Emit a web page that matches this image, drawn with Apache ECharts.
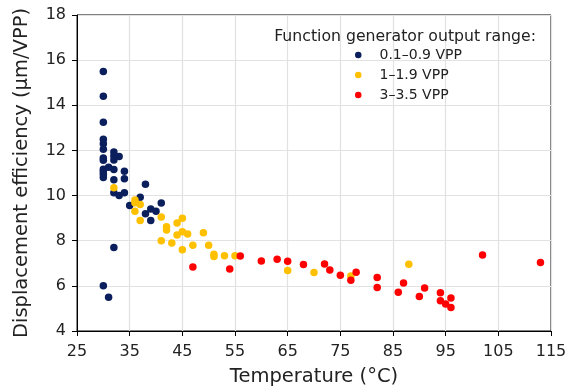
<!DOCTYPE html>
<html>
<head>
<meta charset="utf-8">
<script src="https://cdn.jsdelivr.net/npm/echarts@6/dist/echarts.min.js"></script>
<style>
  html, body { margin: 0; padding: 0; background: #fff; }
  #chart { width: 572px; height: 389px; }
</style>
</head>
<body>
<div id="chart"></div>
<script>
// temperature (°C), displacement efficiency (µm/VPP)
const lowRange = [
  [30, 15.5], [30, 14.4], [30, 13.25], [30, 12.5], [30, 12.3], [30, 12.05],
  [30, 11.67], [30, 11.56], [30, 11.17], [30, 11.07], [30, 10.94], [30, 10.8],
  [31, 11.25], [32, 11.93], [32, 11.75], [33, 11.73], [32, 11.58], [32, 11.15],
  [32, 10.7], [32, 10.13], [33, 10.0], [34, 10.13], [34, 11.08], [34, 10.75],
  [35, 9.56], [37, 9.93], [38, 10.5], [38, 9.2], [39, 9.4], [40, 9.3],
  [41, 9.67], [39, 8.9], [32, 7.7], [30, 6.0], [31, 5.5]
];
const midRange = [
  [32, 10.35], [36, 9.8], [36, 9.68], [37, 9.6], [36, 9.3], [37, 8.9],
  [41, 9.05], [42, 8.62], [42, 8.48], [44, 8.78], [45, 9.0], [45, 8.4],
  [44, 8.25], [46, 8.3], [41, 8.0], [43, 7.9], [45, 7.6], [47, 7.8],
  [49, 8.35], [50, 7.8], [51, 7.4], [51, 7.3], [53, 7.33], [55, 7.33],
  [65, 6.68], [70, 6.59], [77, 6.44], [88, 6.96]
];
const highRange = [
  [47, 6.84], [54, 6.75], [56, 7.32], [60, 7.1], [63, 7.18], [65, 7.09],
  [68, 6.95], [72, 6.97], [73, 6.7], [75, 6.47], [77, 6.25], [78, 6.6],
  [82, 6.37], [82, 5.93], [86, 5.72], [87, 6.13], [90, 5.53], [91, 5.91],
  [94, 5.7], [94, 5.34], [95, 5.2], [96, 5.46], [96, 5.04], [102, 7.37],
  [113, 7.03]
];
const seriesNames = ['0.1–0.9 VPP', '1–1.9 VPP', '3–3.5 VPP'];
const colors = ['#0b1f5c', '#ffc000', '#ff0000'];

const font = 'DejaVu Sans';
const chart = echarts.init(document.getElementById('chart'), null, { renderer: 'canvas' });

const option = {
  animation: false,
  color: colors,
  textStyle: { fontFamily: font },
  title: {
    text: 'Function generator output range:',
    right: 31,
    top: 24,
    textStyle: { fontFamily: font, fontSize: 15.7, fontWeight: 'normal', color: '#222' }
  },
  legend: {
    data: seriesNames,
    orient: 'vertical',
    left: 350,
    top: 43,
    itemGap: 6,
    itemWidth: 6.5,
    itemHeight: 6.5,
    icon: 'circle',
    textStyle: { fontFamily: font, fontSize: 14, lineHeight: 14, color: '#222', padding: [0, 0, 0, 13] }
  },
  grid: {
    left: 77, right: 21, top: 15, bottom: 58,
    outerBoundsMode: 'none',
    show: true, borderColor: '#000', borderWidth: 1
  },
  xAxis: {
    type: 'value',
    min: 25, max: 115, interval: 10,
    name: 'Temperature (°C)',
    nameLocation: 'middle',
    nameGap: 36,
    nameTextStyle: { fontSize: 19.5, color: '#222' },
    axisLine: { lineStyle: { color: '#000' } },
    axisTick: { show: true, length: 5, lineStyle: { color: '#000' } },
    axisLabel: { fontSize: 16, color: '#222', margin: 13 },
    splitLine: { show: true, lineStyle: { color: '#e2e2e2', width: 1.2 } }
  },
  yAxis: {
    type: 'value',
    min: 4, max: 18, interval: 2,
    name: 'Displacement efficiency (µm/VPP)',
    nameLocation: 'middle',
    nameGap: 45,
    nameTextStyle: { fontSize: 19.5, color: '#222' },
    axisLine: { show: true, lineStyle: { color: '#000' } },
    axisTick: { show: true, length: 5, lineStyle: { color: '#000' } },
    axisLabel: { fontSize: 16, color: '#222', margin: 11 },
    splitLine: { show: true, lineStyle: { color: '#e2e2e2', width: 1.2 } }
  },
  series: [lowRange, midRange, highRange].map((d, i) => ({
    name: seriesNames[i],
    type: 'scatter',
    data: d,
    symbolSize: 7.5,
    itemStyle: { color: colors[i], opacity: 1 }
  }))
};

chart.setOption(option);
</script>
</body>
</html>
